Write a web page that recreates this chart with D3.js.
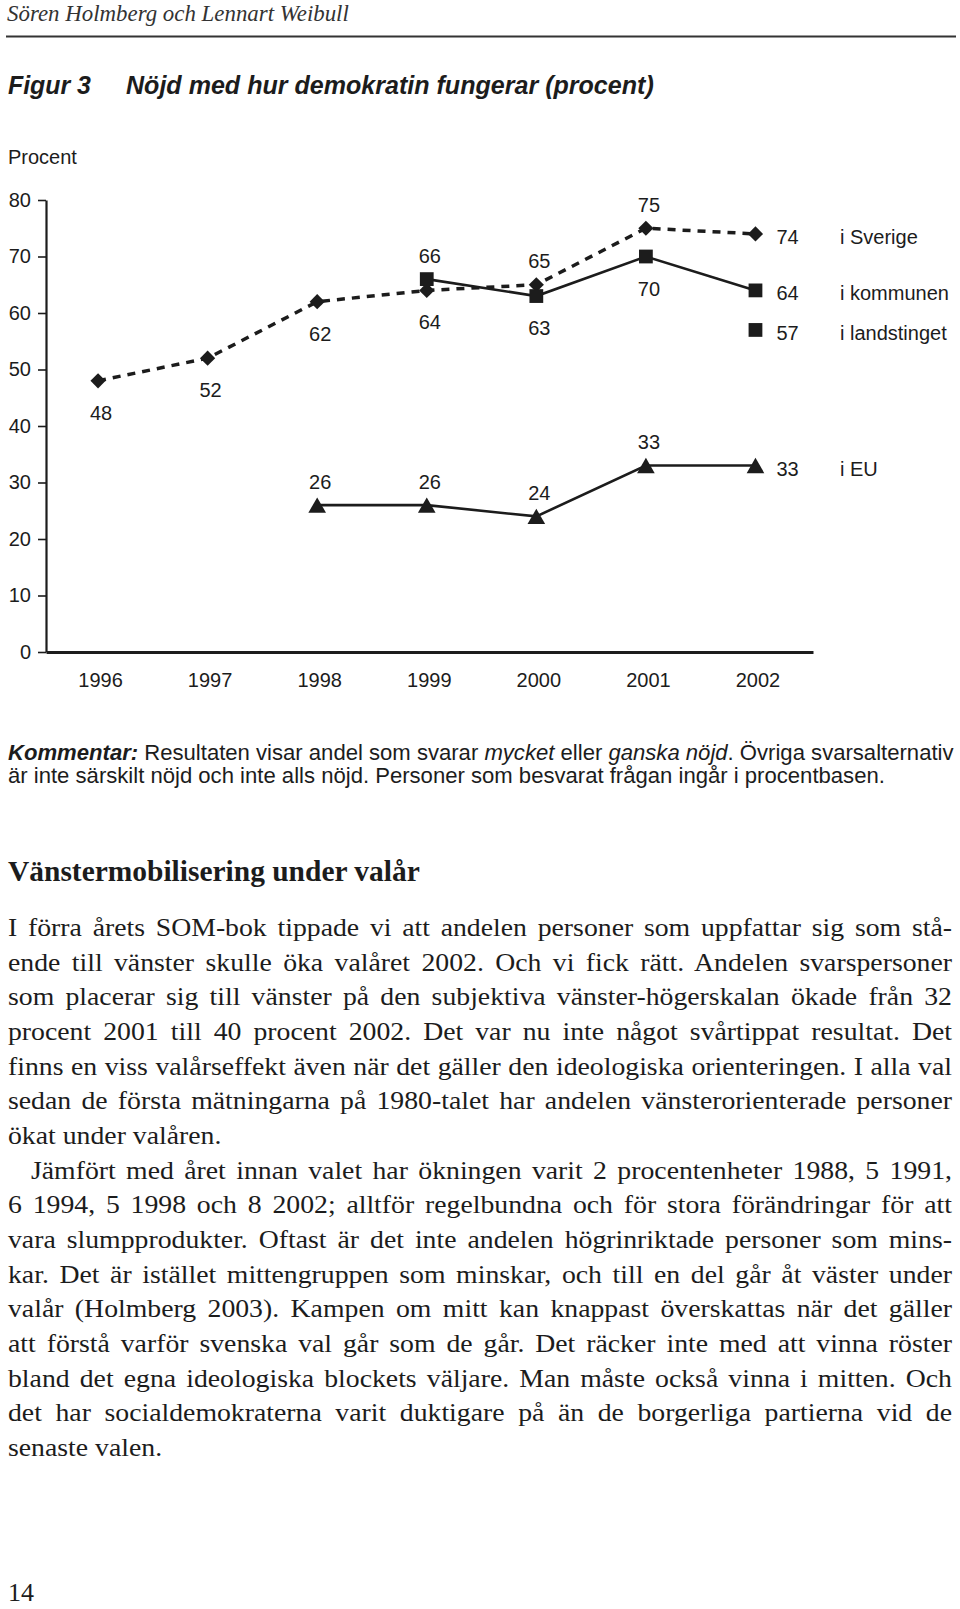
<!DOCTYPE html>
<html><head><meta charset="utf-8">
<script src="https://cdn.jsdelivr.net/npm/d3@7"></script>
<style>body{margin:0;background:#fff}</style>
</head><body>
<svg id="c" width="960" height="1609"></svg>
<script>
// ---------------- data ----------------
const years = ["1996","1997","1998","1999","2000","2001","2002"];
const yTicks = [0,10,20,30,40,50,60,70,80];
const sverige     = [48,52,62,64,65,75,74];
const kommunen    = [null,null,null,66,63,70,64];
const landstinget = [null,null,null,null,null,null,57];
const eu          = [null,null,26,26,24,33,33];
const seriesNames = ["i Sverige","i kommunen","i landstinget","i EU"];

// label placement (a = above, b = below, r = right)
const sverigePos     = ["b","b","b","b","a","a","r"];
const kommunenPos    = [null,null,null,"a","b","b","r"];
const landstingetPos = [null,null,null,null,null,null,"r"];
const euPos          = [null,null,"a","a","a","a","r"];

const bodyLines = [
 "I förra årets SOM-bok tippade vi att andelen personer som uppfattar sig som stå-",
 "ende till vänster skulle öka valåret 2002. Och vi fick rätt. Andelen svarspersoner",
 "som placerar sig till vänster på den subjektiva vänster-högerskalan ökade från 32",
 "procent 2001 till 40 procent 2002. Det var nu inte något svårtippat resultat. Det",
 "finns en viss valårseffekt även när det gäller den ideologiska orienteringen. I alla val",
 "sedan de första mätningarna på 1980-talet har andelen vänsterorienterade personer",
 "ökat under valåren.",
 "Jämfört med året innan valet har ökningen varit 2 procentenheter 1988, 5 1991,",
 "6 1994, 5 1998 och 8 2002; alltför regelbundna och för stora förändringar för att",
 "vara slumpprodukter. Oftast är det inte andelen högrinriktade personer som mins-",
 "kar. Det är istället mittengruppen som minskar, och till en del går åt väster under",
 "valår (Holmberg 2003). Kampen om mitt kan knappast överskattas när det gäller",
 "att förstå varför svenska val går som de går. Det räcker inte med att vinna röster",
 "bland det egna ideologiska blockets väljare. Man måste också vinna i mitten. Och",
 "det har socialdemokraterna varit duktigare på än de borgerliga partierna vid de",
 "senaste valen."
];
const lastLines = [6, 15];   // not justified
const indentLines = [7];

// ---------------- drawing ----------------
const svg = d3.select("#c");
svg.append("rect").attr("width",960).attr("height",1609).attr("fill","#fff");
const ink = "#1c1c1c";
const sans = "'Liberation Sans', Arial, Helvetica, sans-serif";
const serif = "'Liberation Serif', 'DejaVu Serif', serif";

function fitWidth(sel, target){
  const w = sel.node().getComputedTextLength();
  const fs = parseFloat(sel.attr("font-size"));
  sel.attr("font-size", fs*target/w);
}

// header
const hdr = svg.append("text").attr("x",7).attr("y",21).attr("font-family",serif)
  .attr("font-style","italic").attr("font-size",21).attr("fill","#333")
  .text("Sören Holmberg och Lennart Weibull");
fitWidth(hdr, 342);
svg.append("line").attr("x1",6).attr("x2",956).attr("y1",36.5).attr("y2",36.5)
  .attr("stroke","#333").attr("stroke-width",2);

// figure title
const fig = svg.append("text").attr("x",8).attr("y",94).attr("font-family",sans).attr("font-weight","bold")
  .attr("font-style","italic").attr("font-size",22).attr("fill",ink).text("Figur 3");
fitWidth(fig, 83);
const ttl = svg.append("text").attr("x",126).attr("y",94).attr("font-family",sans).attr("font-weight","bold")
  .attr("font-style","italic").attr("font-size",22).attr("fill",ink)
  .text("Nöjd med hur demokratin fungerar (procent)");
fitWidth(ttl, 528);

svg.append("text").attr("x",8).attr("y",164).attr("font-family",sans).attr("font-size",20)
  .attr("fill",ink).text("Procent");

// scales
const y = d3.scaleLinear().domain([0,80]).range([652,200]);
const x = d3.scalePoint().domain(years).range([46,813]).padding(0.5).align(0.475);

// axes
const gy = svg.append("g").attr("transform","translate(46,0)")
  .call(d3.axisLeft(y).tickValues(yTicks).tickSize(8).tickSizeOuter(0).tickPadding(7));
gy.select(".domain").attr("stroke",ink).attr("stroke-width",2.2);
gy.selectAll(".tick line").attr("stroke",ink).attr("stroke-width",1.6);
gy.selectAll(".tick text").attr("font-family",sans).attr("font-size",20).attr("fill",ink);

const gx = svg.append("g").attr("transform",`translate(0,${y(0)})`)
  .call(d3.axisBottom(x).tickSize(0).tickSizeOuter(0).tickPadding(21));
gx.select(".domain").attr("stroke",ink).attr("stroke-width",3);
gx.selectAll(".tick text").attr("font-family",sans).attr("font-size",20).attr("fill",ink).attr("dx",2);

// series
const series = [
  {vals: sverige, pos: sverigePos, sym:"diamond", dash:"8,7", w:3.5},
  {vals: kommunen, pos: kommunenPos, sym:"square", dash:null, w:2.6},
  {vals: landstinget, pos: landstingetPos, sym:"square", dash:null, w:2.6},
  {vals: eu, pos: euPos, sym:"triangle", dash:null, w:2.6}
];
const line = d3.line().defined(d=>d.v!=null).x(d=>x(d.yr)).y(d=>y(d.v));
const gLines = svg.append("g"), gMarks = svg.append("g"), gLab = svg.append("g");
series.forEach((s,si)=>{
  const pts = years.map((yr,i)=>({yr, v:s.vals[i], p:s.pos[i]}));
  gLines.append("path").datum(pts).attr("d",line).attr("fill","none").attr("stroke",ink)
    .attr("stroke-width",s.w).attr("stroke-dasharray",s.dash);
  const valid = pts.filter(d=>d.v!=null);
  valid.forEach(d=>{
    const cx = x(d.yr), cy = y(d.v);
    if(s.sym==="diamond"){
      gMarks.append("path").attr("d",d3.symbol(d3.symbolSquare,115)())
        .attr("transform",`translate(${cx},${cy}) rotate(45)`).attr("fill",ink);
    } else if(s.sym==="square"){
      gMarks.append("path").attr("d",d3.symbol(d3.symbolSquare,190)())
        .attr("transform",`translate(${cx},${cy})`).attr("fill",ink);
    } else {
      gMarks.append("path").attr("d",d3.symbol(d3.symbolTriangle,135)())
        .attr("transform",`translate(${cx},${cy+2.5})`).attr("fill",ink);
    }
    let lx, ly, anchor="middle";
    if(d.p==="a"){ lx=cx+3; ly=cy-16.5; }
    else if(d.p==="b"){ lx=cx+3; ly=cy+39; }
    else { lx=cx+21; ly=cy+10; anchor="start"; }
    gLab.append("text").attr("x",lx).attr("y",ly).attr("text-anchor",anchor)
      .attr("font-family",sans).attr("font-size",20).attr("fill",ink).text(d.v);
    if(d.p==="r"){
      gLab.append("text").attr("x",840).attr("y",ly).attr("font-family",sans)
        .attr("font-size",20).attr("fill",ink).text(seriesNames[si]);
    }
  });
});

// comment
const k1 = svg.append("text").attr("x",8).attr("y",760).attr("font-family",sans)
  .attr("font-size",18).attr("fill",ink);
k1.append("tspan").attr("font-weight","bold").attr("font-style","italic").text("Kommentar:");
k1.append("tspan").text(" Resultaten visar andel som svarar ");
k1.append("tspan").attr("font-style","italic").text("mycket");
k1.append("tspan").text(" eller ");
k1.append("tspan").attr("font-style","italic").text("ganska nöjd");
k1.append("tspan").text(". Övriga svarsalternativ");
fitWidth(k1, 946);
svg.append("text").attr("x",8).attr("y",783).attr("font-family",sans)
  .attr("font-size",k1.attr("font-size")).attr("fill",ink)
  .text("är inte särskilt nöjd och inte alls nöjd. Personer som besvarat frågan ingår i procentbasen.");

// section heading
const hd = svg.append("text").attr("x",8).attr("y",881).attr("font-family",serif)
  .attr("font-weight","bold").attr("font-size",28).attr("fill",ink)
  .text("Vänstermobilisering under valår");
fitWidth(hd, 412);

// body (Garamond-like width: slightly widened serif)
const sx = 1.11;
bodyLines.forEach((t,i)=>{
  const x0 = indentLines.includes(i) ? 31 : 8;
  const tx = svg.append("text")
    .attr("transform",`translate(${x0},${936 + i*34.67}) scale(${sx},1)`)
    .attr("font-family",serif).attr("font-size",25).attr("fill",ink).text(t);
  if(!lastLines.includes(i)){
    const w = tx.node().getComputedTextLength();
    const n = (t.match(/ /g)||[]).length;
    tx.attr("word-spacing", ((952 - x0)/sx - w)/n);
  }
});

// page number
svg.append("text").attr("x",8).attr("y",1601).attr("font-family",serif)
  .attr("font-size",26).attr("fill",ink).text("14");
</script>
</body></html>
